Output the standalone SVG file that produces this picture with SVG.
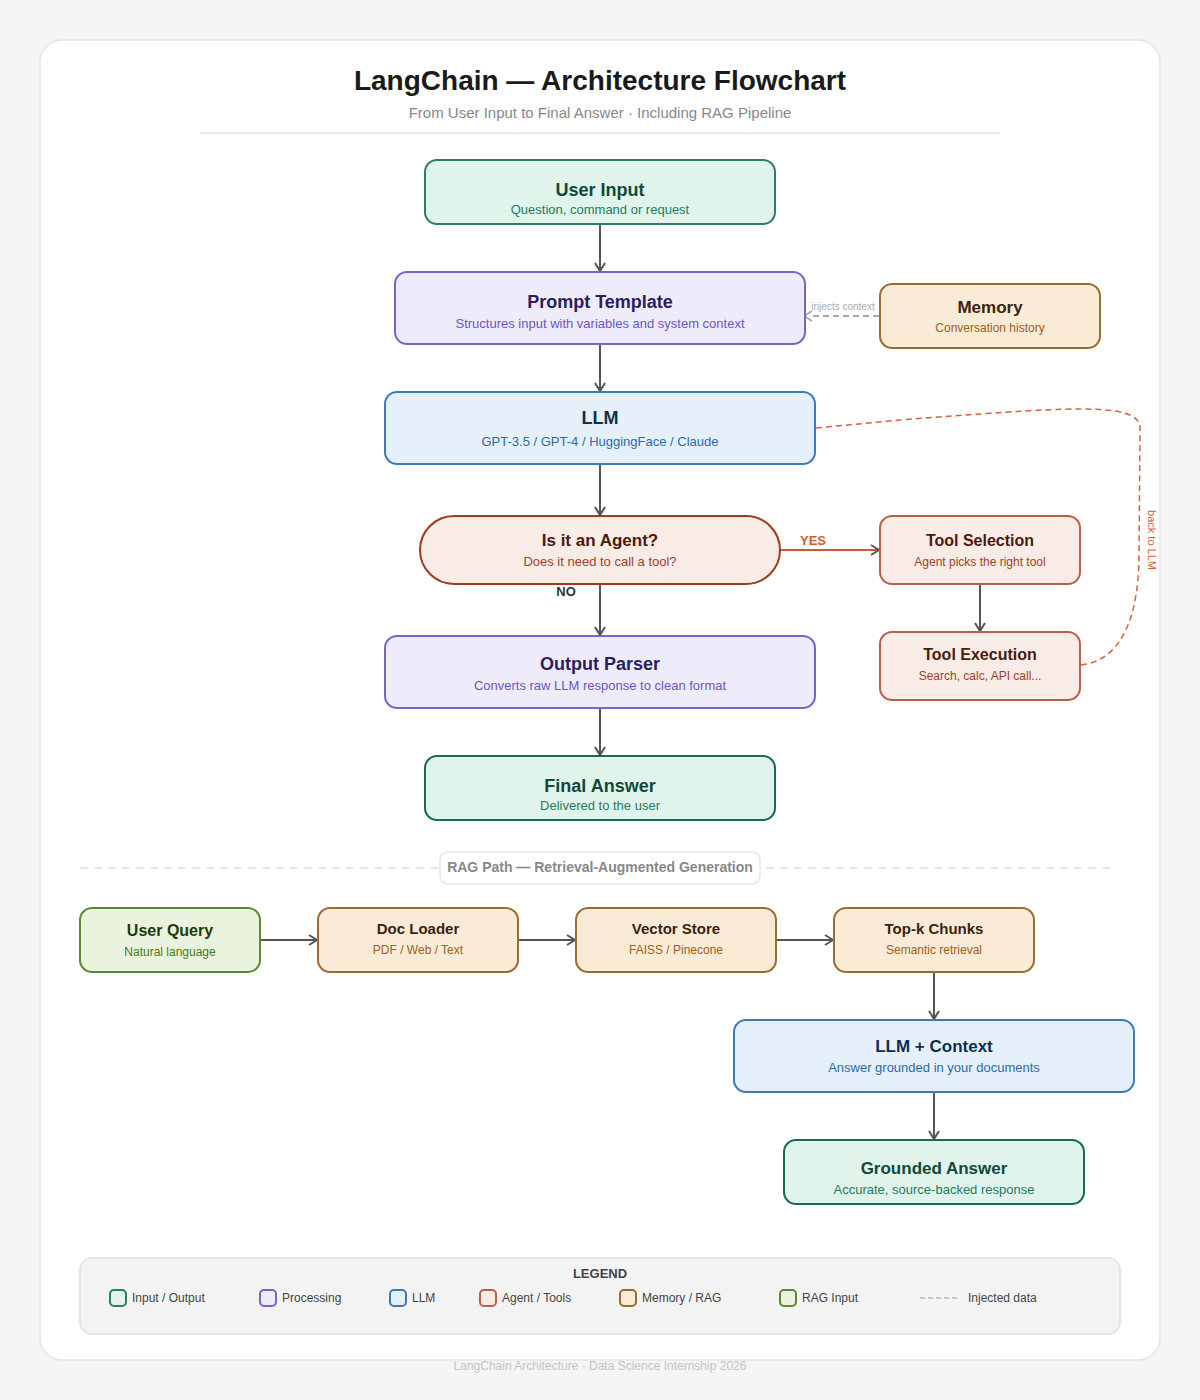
<svg xmlns="http://www.w3.org/2000/svg" width="1200" height="1400" viewBox="0 0 1200 1400">
<defs>
<marker id="arr" viewBox="0 0 12 12" refX="10" refY="6" markerWidth="12" markerHeight="12" markerUnits="userSpaceOnUse" orient="auto">
<path d="M2,1 L10,6 L2,11" fill="none" stroke="#555" stroke-width="2"/>
</marker>
<marker id="arrg" viewBox="0 0 12 12" refX="2" refY="6" markerWidth="12" markerHeight="12" markerUnits="userSpaceOnUse" orient="auto">
<path d="M2,1 L10,6 L2,11" fill="none" stroke="#aaa" stroke-width="1.8"/>
</marker>
</defs>
<style>
text{font-family:"Liberation Sans",Arial,sans-serif;text-anchor:middle}
.t{font-weight:bold;font-size:18px}
.s{font-size:13px}
.ts{font-weight:bold;font-size:15px}
.ss{font-size:12px}
.io rect{fill:#e1f4ec;stroke:#2e7d64;stroke-width:2}
.io .t,.io .ts{fill:#0e4a3a}.io .s,.io .ss{fill:#1f7a5e}
.pr rect{fill:#eeecfb;stroke:#7466c8;stroke-width:2}
.pr .t{fill:#2a2060}.pr .s{fill:#6a55c8}
.llm rect{fill:#e6f0fa;stroke:#3d7ab8;stroke-width:2}
.llm .t{fill:#0d2e50}.llm .s{fill:#2a6aad}
.ag rect{fill:#f9ece6;stroke:#b8604a;stroke-width:2}
.ag .t,.ag .ts{fill:#4a1a0a}.ag .s,.ag .ss{fill:#a0402a}
.mem rect{fill:#faebd7;stroke:#9c6b30;stroke-width:2}
.mem .t,.mem .ts{fill:#3a2410}.mem .s,.mem .ss{fill:#9c6020}
.rq rect{fill:#eaf3de;stroke:#5a8a30;stroke-width:2}
.rq .ts,.rq .t{fill:#1e3a0a}.rq .ss{fill:#4a7a20}
.conn path,.conn line{fill:none;stroke:#555;stroke-width:2}
.lg rect{stroke-width:2}
.lg text{font-size:12px;fill:#444;text-anchor:start}
</style>
<rect x="0" y="0" width="1200" height="1400" fill="#f5f5f5"/>
<rect x="40" y="40" width="1120" height="1320" rx="22" fill="#fff" stroke="#e6e6e6" stroke-width="1.5"/>
<text x="600" y="90" style="font-weight:bold;font-size:28px;fill:#1a1a1a">LangChain — Architecture Flowchart</text>
<text x="600" y="118" style="font-size:15px;fill:#888">From User Input to Final Answer · Including RAG Pipeline</text>
<line x1="200" y1="133" x2="1000" y2="133" stroke="#e3e3e3" stroke-width="1.5"/>

<g id="connectors" class="conn">
<line x1="600" y1="224" x2="600" y2="271" marker-end="url(#arr)"/>
<line x1="600" y1="344" x2="600" y2="391" marker-end="url(#arr)"/>
<line x1="600" y1="464" x2="600" y2="515" marker-end="url(#arr)"/>
<line x1="600" y1="584" x2="600" y2="635" marker-end="url(#arr)"/>
<line x1="600" y1="708" x2="600" y2="755" marker-end="url(#arr)"/>
<line x1="780" y1="550" x2="879" y2="550" style="stroke:#d05a30" marker-end="url(#arr)"/>
<line x1="980" y1="584" x2="980" y2="631" marker-end="url(#arr)"/>
<line x1="879" y1="316" x2="812" y2="316" style="stroke:#aaa;stroke-dasharray:6 4" marker-end="url(#arrg)"/>
<path d="M1081,665 C1125,660 1138,610 1139,560 L1140,428 C1140,400 1060,408 900,420 L816,428" style="stroke:#d8603a;stroke-width:1.5;stroke-dasharray:6 4"/>
<path d="M808,423 L815,428 L808,433" style="stroke:#555;stroke-width:1.5"/>
<line x1="260" y1="940" x2="317" y2="940" marker-end="url(#arr)"/>
<line x1="518" y1="940" x2="575" y2="940" marker-end="url(#arr)"/>
<line x1="776" y1="940" x2="833" y2="940" marker-end="url(#arr)"/>
<line x1="934" y1="972" x2="934" y2="1019" marker-end="url(#arr)"/>
<line x1="934" y1="1092" x2="934" y2="1139" marker-end="url(#arr)"/>
<text x="843" y="310" style="font-size:10px;fill:#aaa">injects context</text>
<text x="813" y="545" style="font-weight:bold;font-size:13px;fill:#d05a30">YES</text>
<text x="566" y="596" style="font-weight:bold;font-size:13px;fill:#333">NO</text>
<text x="1148" y="540" transform="rotate(90 1148 540)" style="font-size:11px;fill:#d8603a">back to LLM</text>
</g>

<g id="user-input" class="io"><rect x="425" y="160" width="350" height="64" rx="12"/><text class="t" x="600" y="196">User Input</text><text class="s" x="600" y="214">Question, command or request</text></g>
<g id="prompt-template" class="pr"><rect x="395" y="272" width="410" height="72" rx="12"/><text class="t" x="600" y="308">Prompt Template</text><text class="s" x="600" y="328">Structures input with variables and system context</text></g>
<g id="memory" class="mem"><rect x="880" y="284" width="220" height="64" rx="12"/><text class="t" x="990" y="313" style="font-size:17px">Memory</text><text class="ss" x="990" y="332">Conversation history</text></g>
<g id="llm" class="llm"><rect x="385" y="392" width="430" height="72" rx="12"/><text class="t" x="600" y="424">LLM</text><text class="s" x="600" y="446">GPT-3.5 / GPT-4 / HuggingFace / Claude</text></g>
<g id="agent-decision" class="ag"><rect x="420" y="516" width="360" height="68" rx="34" style="stroke:#9a3a1e"/><text class="t" x="600" y="546" style="font-size:17px">Is it an Agent?</text><text class="s" x="600" y="566">Does it need to call a tool?</text></g>
<g id="tool-selection" class="ag"><rect x="880" y="516" width="200" height="68" rx="12"/><text class="t" x="980" y="546" style="font-size:16px">Tool Selection</text><text class="ss" x="980" y="566">Agent picks the right tool</text></g>
<g id="tool-execution" class="ag"><rect x="880" y="632" width="200" height="68" rx="12"/><text class="t" x="980" y="660" style="font-size:16px">Tool Execution</text><text class="ss" x="980" y="680">Search, calc, API call...</text></g>
<g id="output-parser" class="pr"><rect x="385" y="636" width="430" height="72" rx="12"/><text class="t" x="600" y="670">Output Parser</text><text class="s" x="600" y="690">Converts raw LLM response to clean format</text></g>
<g id="final-answer" class="io"><rect x="425" y="756" width="350" height="64" rx="12" style="stroke:#17694f"/><text class="t" x="600" y="792">Final Answer</text><text class="s" x="600" y="810">Delivered to the user</text></g>

<line x1="80" y1="868" x2="1115" y2="868" stroke="#ddd" stroke-width="1.5" stroke-dasharray="8 6"/>
<rect x="440" y="852" width="320" height="32" rx="8" fill="#fff" stroke="#e6e6e6" stroke-width="1.5"/>
<text x="600" y="872" style="font-weight:bold;font-size:14px;fill:#888">RAG Path — Retrieval-Augmented Generation</text>

<g id="user-query" class="rq"><rect x="80" y="908" width="180" height="64" rx="12"/><text class="ts" x="170" y="936" style="font-size:16px">User Query</text><text class="ss" x="170" y="956">Natural language</text></g>
<g id="doc-loader" class="mem"><rect x="318" y="908" width="200" height="64" rx="12"/><text class="ts" x="418" y="934">Doc Loader</text><text class="ss" x="418" y="954">PDF / Web / Text</text></g>
<g id="vector-store" class="mem"><rect x="576" y="908" width="200" height="64" rx="12"/><text class="ts" x="676" y="934">Vector Store</text><text class="ss" x="676" y="954">FAISS / Pinecone</text></g>
<g id="topk-chunks" class="mem"><rect x="834" y="908" width="200" height="64" rx="12"/><text class="ts" x="934" y="934">Top-k Chunks</text><text class="ss" x="934" y="954">Semantic retrieval</text></g>
<g id="llm-context" class="llm"><rect x="734" y="1020" width="400" height="72" rx="12"/><text class="t" x="934" y="1052" style="font-size:17px">LLM + Context</text><text class="s" x="934" y="1072">Answer grounded in your documents</text></g>
<g id="grounded-answer" class="io"><rect x="784" y="1140" width="300" height="64" rx="12" style="stroke:#17694f"/><text class="t" x="934" y="1174" style="font-size:17px">Grounded Answer</text><text class="s" x="934" y="1194">Accurate, source-backed response</text></g>

<g id="legend" class="lg">
<rect x="80" y="1258" width="1040" height="76" rx="12" fill="#f3f3f3" stroke="#e6e6e6" stroke-width="1.5"/>
<text x="600" y="1278" style="font-weight:bold;font-size:13px;fill:#444;text-anchor:middle">LEGEND</text>
<rect x="110" y="1290" width="16" height="16" rx="4" fill="#e1f4ec" stroke="#2e7d64"/><text x="132" y="1302">Input / Output</text>
<rect x="260" y="1290" width="16" height="16" rx="4" fill="#eeecfb" stroke="#7466c8"/><text x="282" y="1302">Processing</text>
<rect x="390" y="1290" width="16" height="16" rx="4" fill="#e6f0fa" stroke="#3d7ab8"/><text x="412" y="1302">LLM</text>
<rect x="480" y="1290" width="16" height="16" rx="4" fill="#f9ece6" stroke="#b8604a"/><text x="502" y="1302">Agent / Tools</text>
<rect x="620" y="1290" width="16" height="16" rx="4" fill="#faebd7" stroke="#9c6b30"/><text x="642" y="1302">Memory / RAG</text>
<rect x="780" y="1290" width="16" height="16" rx="4" fill="#eaf3de" stroke="#5a8a30"/><text x="802" y="1302">RAG Input</text>
<line x1="920" y1="1298" x2="958" y2="1298" stroke="#bbb" stroke-width="1.5" stroke-dasharray="5 3"/><text x="968" y="1302">Injected data</text>
</g>
<text x="600" y="1370" style="font-size:12px;fill:#c4c4c4">LangChain Architecture · Data Science Internship 2026</text>
</svg>
